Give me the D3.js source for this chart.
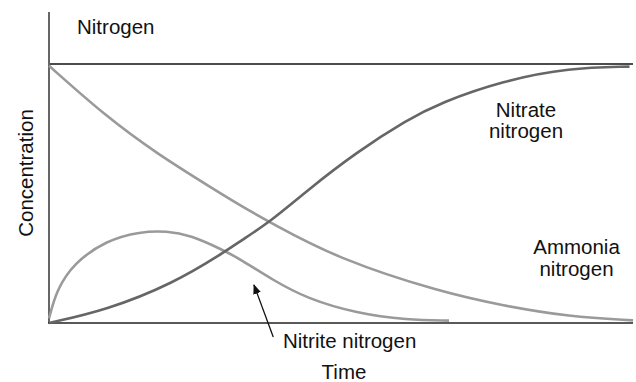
<!DOCTYPE html>
<html>
<head>
<meta charset="utf-8">
<script src="https://cdn.jsdelivr.net/npm/d3@7"></script>
<style>
  body { margin: 0; background: #fff; }
  text { font-family: "Liberation Sans", Arial, sans-serif; fill: #111; }
</style>
</head>
<body>
<div class="chart"></div>
<script>
// time (0-100) and relative concentration (0-1, 1 = top reference line)
var ammoniaT = [0, 9.9, 18.4, 28.7, 32.7, 38.1, 49.8, 67.0, 77.7, 89.1, 100];
var ammoniaC = [0.993, 0.795, 0.655, 0.51, 0.455, 0.385, 0.245, 0.12, 0.067, 0.024, 0.01];

var nitrateT = [0, 9.9, 21.3, 29.8, 32.7, 38.1, 44.1, 52.7, 61.3, 67.0, 77.7, 89.1, 99.4];
var nitrateC = [0, 0.05, 0.153, 0.27, 0.315, 0.395, 0.51, 0.66, 0.784, 0.85, 0.935, 0.985, 0.99];

var nitriteT = [0, 1.3, 4.2, 9.9, 15.6, 20.2, 24.1, 29.8, 32.7, 38.4, 44.1, 52.7, 61.3, 68.5];
var nitriteC = [0.018, 0.127, 0.231, 0.32, 0.353, 0.355, 0.34, 0.282, 0.247, 0.165, 0.095, 0.037, 0.012, 0.009];

var W = 636, H = 382;
var svg = d3.select(".chart").append("svg")
    .attr("width", W)
    .attr("height", H);

var x = d3.scaleLinear().domain([0, 100]).range([49, 633]);
var y = d3.scaleLinear().domain([0, 1]).range([323, 64]);

function pts(ts, cs) {
  return ts.map(function (t, i) { return [t, cs[i]]; });
}

var line = d3.line()
    .x(function (d) { return x(d[0]); })
    .y(function (d) { return y(d[1]); })
    .curve(d3.curveBasis);

// top reference line
svg.append("line")
    .attr("x1", x(0)).attr("x2", x(100))
    .attr("y1", y(1)).attr("y2", y(1))
    .attr("stroke", "#111")
    .attr("stroke-width", 1.6);

// axes (no ticks)
svg.append("line")
    .attr("x1", x(0)).attr("x2", x(0))
    .attr("y1", 12).attr("y2", y(0))
    .attr("stroke", "#666")
    .attr("stroke-width", 2);

svg.append("line")
    .attr("x1", x(0) - 1).attr("x2", x(100))
    .attr("y1", y(0)).attr("y2", y(0))
    .attr("stroke", "#222")
    .attr("stroke-width", 1.6);

// curves
svg.append("path")
    .attr("d", line(pts(ammoniaT, ammoniaC)))
    .attr("fill", "none")
    .attr("stroke", "#9a9a9a")
    .attr("stroke-width", 2.6);

svg.append("path")
    .attr("d", line(pts(nitriteT, nitriteC)))
    .attr("fill", "none")
    .attr("stroke", "#9a9a9a")
    .attr("stroke-width", 2.6);

svg.append("path")
    .attr("d", line(pts(nitrateT, nitrateC)))
    .attr("fill", "none")
    .attr("stroke", "#666")
    .attr("stroke-width", 2.6);

// arrow pointing at the nitrite curve
svg.append("defs").append("marker")
    .attr("id", "arrow")
    .attr("viewBox", "0 0 10 10")
    .attr("refX", 9).attr("refY", 5)
    .attr("markerWidth", 10).attr("markerHeight", 10)
    .attr("markerUnits", "userSpaceOnUse")
    .attr("orient", "auto")
  .append("path")
    .attr("d", "M0,1 L10,5 L0,9 Z")
    .attr("fill", "#111");

svg.append("line")
    .attr("x1", x(38.4)).attr("y1", y(-0.054))
    .attr("x2", x(35.1)).attr("y2", y(0.147))
    .attr("stroke", "#111")
    .attr("stroke-width", 1.3)
    .attr("marker-end", "url(#arrow)");

// texts
var fs = "20.5px";
svg.append("text").attr("x", 77).attr("y", 34).style("font-size", fs).text("Nitrogen");

svg.append("text")
    .attr("transform", "translate(33,173) rotate(-90)")
    .attr("text-anchor", "middle")
    .style("font-size", fs)
    .text("Concentration");

svg.append("text").attr("x", 344).attr("y", 379)
    .attr("text-anchor", "middle").style("font-size", fs).text("Time");

svg.append("text").attr("x", 283).attr("y", 347.5)
    .style("font-size", fs).text("Nitrite nitrogen");

var nitrateLbl = svg.append("text").attr("text-anchor", "middle").style("font-size", fs);
nitrateLbl.append("tspan").attr("x", 526).attr("y", 116.5).text("Nitrate");
nitrateLbl.append("tspan").attr("x", 526).attr("y", 137.5).text("nitrogen");

var ammoniaLbl = svg.append("text").attr("text-anchor", "middle").style("font-size", fs);
ammoniaLbl.append("tspan").attr("x", 576.5).attr("y", 254).text("Ammonia");
ammoniaLbl.append("tspan").attr("x", 576.5).attr("y", 275.5).text("nitrogen");
</script>
</body>
</html>
